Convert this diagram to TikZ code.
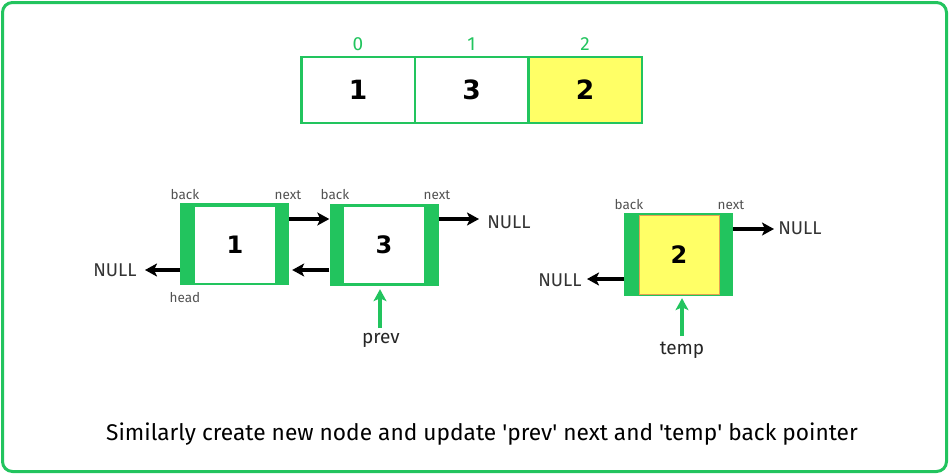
\documentclass[tikz,border=0pt]{standalone}
\usepackage{fontspec}
\setmainfont{Fira Sans}
\newfontfamily\numfont{DejaVu Sans}
\usetikzlibrary{arrows.meta,calc}
\definecolor{gg}{RGB}{34,196,94}
\definecolor{yy}{RGB}{255,255,102}
\definecolor{txt}{RGB}{51,51,51}
\definecolor{org}{RGB}{230,160,80}
\begin{document}
\begin{tikzpicture}[x=1pt,y=-1pt,
  cell/.style={draw=gg,line width=2.5pt,minimum width=113.5pt,minimum height=66pt,inner sep=0pt,font=\numfont\bfseries\fontsize{26.5}{27}\selectfont},
  idx/.style={text=gg,font=\fontsize{19}{19}\selectfont},
  lnode/.style={fill=gg,minimum width=109pt,minimum height=82pt,inner sep=0pt},
  inner/.style={fill=white,minimum width=80pt,minimum height=76pt,inner sep=0pt,font=\numfont\bfseries\fontsize{24}{24}\selectfont},
  nulltxt/.style={text=txt,font=\fontsize{18.5}{19}\selectfont,inner sep=1pt},
  ptr/.style={text=txt!85,font=\fontsize{13.5}{14}\selectfont,inner sep=0pt},
  blk/.style={line width=3.5pt,-{Stealth[length=12pt,width=13pt,inset=3pt]}},
  grn/.style={gg,line width=3.5pt,-{Stealth[length=12pt,width=13pt,inset=3pt]}},
  lbl/.style={text=black!85,font=\fontsize{19}{19}\selectfont}
]
\useasboundingbox (0,0) rectangle (949,474);
\draw[gg,line width=3pt,rounded corners=10pt] (2.5,2.5) rectangle (946.5,471.5);

% array
\node[cell] (c0) at (358,90) {1};
\node[cell] (c1) at (471.5,90) {3};
\node[cell,fill=yy] (c2) at (585,90) {2};
\node[idx] (i0) at (358,44) {0};
\node[idx] (i1) at (471.5,44) {1};
\node[idx] (i2) at (585,44) {2};

% linked nodes
\node[lnode] (n1) at (234.5,244) {};
\node[inner] (v1) at (235,245) {1};
\node[lnode] (n3) at (384,245) {};
\node[inner] (v3) at (384,245) {3};
\node[lnode,minimum height=83pt] (n2) at (678.5,254.5) {};
\node[inner,fill=yy,draw=org,line width=0.6pt,minimum height=79pt] (v2) at (679,254.5) {2};

% NULL texts
\node[nulltxt] (nl1) at (115,270) {NULL};
\node[nulltxt] (nr3) at (509,222) {NULL};
\node[nulltxt] (nl2) at (560,280) {NULL};
\node[nulltxt] (nr2) at (800,228) {NULL};

% pointer labels
\node[ptr] (b1) at (185,195) {back};
\node[ptr] (x1) at (288,195) {next};
\node[ptr] (b3) at (335,195) {back};
\node[ptr] (x3) at (437,195) {next};
\node[ptr] (h1) at (185,298) {head};
\node[ptr] (b2) at (629,205) {back};
\node[ptr] (x2) at (731,205) {next};

% arrow end coordinates
\coordinate (e1) at (145,270);
\coordinate (e3) at (479,219);
\coordinate (e2r) at (774,229);
\coordinate (e2l) at (587,279);
\coordinate (pa) at (380,328);
\coordinate (ta) at (682,336);

% arrows
\draw[blk] ($(n1.east)+(0,-25)$) -- ($(n3.west)+(0,-26)$);
\draw[blk,shorten >=3pt] ($(n3.west)+(0,25)$) -- ($(n1.east)+(0,26)$);
\draw[blk] ($(n1.west)+(0,26)$) -- (e1);
\draw[blk] ($(n3.east)+(0,-26)$) -- (e3);
\draw[blk] ($(n2.east)+(0,-25.5)$) -- (e2r);
\draw[blk] ($(n2.west)+(0,24.5)$) -- (e2l);

% prev / temp
\node[lbl] (prev) at (381,340) {prev};
\node[lbl] (temp) at (682,350) {temp};
\draw[grn,shorten >=3pt] (pa) -- (pa |- n3.south);
\draw[grn,shorten >=2pt] (ta) -- (ta |- n2.south);

\node[font=\fontsize{22.7}{23}\selectfont,text=black] (cap) at (482,434) {Similarly create new node and update \textquotesingle prev\textquotesingle{} next and \textquotesingle temp\textquotesingle{} back pointer};
\end{tikzpicture}
\end{document}
